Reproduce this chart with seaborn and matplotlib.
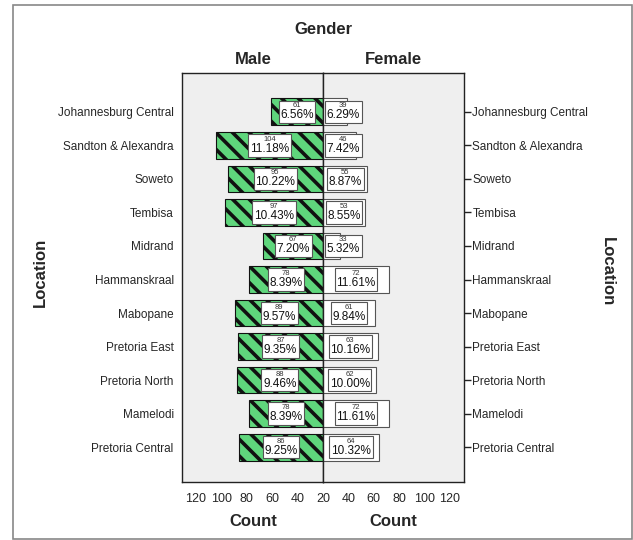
import matplotlib
matplotlib.use('Agg')
import numpy as np
import pandas as pd
import matplotlib.pyplot as plt
from matplotlib.patches import Rectangle
from matplotlib.offsetbox import TextArea, VPacker, AnnotationBbox
import seaborn as sns


locations = ['Johannesburg Central', 'Sandton & Alexandra', 'Soweto', 'Tembisa',
             'Midrand', 'Hammanskraal', 'Mabopane', 'Pretoria East',
             'Pretoria North', 'Mamelodi', 'Pretoria Central']
male_counts = [61, 104, 95, 97, 67, 78, 89, 87, 88, 78, 86]
female_counts = [39, 46, 55, 53, 33, 72, 61, 63, 62, 72, 64]
male_ticks = [20, 40, 60, 80, 100, 120]
female_ticks = [40, 60, 80, 100, 120]

BASE = 20
XMAX = 131
FONT = ['Liberation Sans', 'DejaVu Sans']


def draw_side(ax, counts, color, hatch, edge):
    df = pd.DataFrame({'location': locations, 'count': counts})
    sns.barplot(data=df, x='count', y='location', ax=ax, orient='h',
                color=color, width=0.8, edgecolor=edge, linewidth=0.8,
                hatch=hatch, saturation=1, zorder=2)
    total = sum(counts)
    boxes = []
    for i, c in enumerate(counts):
        xm = (BASE + c) / 2
        pct = '%.2f%%' % (c / total * 100)
        top = TextArea(str(c), textprops=dict(fontsize=5.5, family=FONT, color='#333333'))
        bot = TextArea(pct, textprops=dict(fontsize=8.5, family=FONT, color='#111111'))
        pack = VPacker(children=[top, bot], align='center', pad=0, sep=0)
        ab = AnnotationBbox(pack, (xm, i), xycoords='data', frameon=True,
                            pad=0.12, box_alignment=(0.5, 0.5), zorder=4,
                            bboxprops=dict(boxstyle='square,pad=0.12', fc='white',
                                           ec='#555555', lw=0.8))
        ax.add_artist(ab)
        boxes.append((ab, xm, i))
    ax.set_ylim(11.04, -1.16)
    ax.set_facecolor('#efefef')
    ax.set_xlabel('')
    ax.set_ylabel('')
    for s in ax.spines.values():
        s.set_color('#222222')
        s.set_linewidth(1.0)
    ax.tick_params(axis='both', length=5, width=1, color='#222222')
    ax.tick_params(axis='y', labelsize=8.5, pad=1)
    ax.tick_params(axis='x', labelsize=9, pad=3)
    return boxes


def keep_inside(fig, ax, boxes, side):
    # push a label box away from the centre line when it would cross it
    fig.canvas.draw()
    r = fig.canvas.get_renderer()
    centre = ax.transData.transform((BASE, 0))[0]
    for ab, xm, i in boxes:
        bb = ab.get_window_extent(r)
        if side == 'right':
            shift = centre + 2 - bb.x0
        else:
            shift = centre - 2 - bb.x1
            shift = min(shift, 0)
        if (side == 'right' and shift > 0) or (side == 'left' and shift < 0):
            px = ax.transData.transform((xm, i))[0] + shift
            nx = ax.transData.inverted().transform((px, 0))[0]
            ab.xy = (nx, i)
            ab.xybox = (nx, i)


sns.set_style('white')
plt.rcParams['hatch.linewidth'] = 2.6
plt.rcParams['hatch.color'] = 'black'
plt.rcParams['font.family'] = FONT

fig = plt.figure(figsize=(6.33, 5.40), dpi=100)
ax_m = fig.add_axes([182 / 633, 1 - 482 / 540, 141 / 633, 409 / 540])
ax_f = fig.add_axes([323 / 633, 1 - 482 / 540, 141 / 633, 409 / 540])

male_boxes = draw_side(ax_m, male_counts, '#5fd67c', '\\\\', '#111111')
female_boxes = draw_side(ax_f, female_counts, 'white', None, '#555555')

ax_m.set_xlim(XMAX, BASE)
ax_m.set_xticks(male_ticks)
ax_m.set_xticklabels([str(t) for t in male_ticks])
ax_f.set_xlim(BASE, XMAX)
ax_f.set_xticks(female_ticks)
ax_f.set_xticklabels([str(t) for t in female_ticks])
ax_f.yaxis.tick_right()
ax_f.set_yticks(range(len(locations)))
ax_f.set_yticklabels(locations)

bold = dict(fontsize=12, fontweight='bold', family=FONT, ha='center', va='center')
fig.text(323 / 633, 1 - 30 / 540, 'Gender', **bold)
fig.text(253 / 633, 1 - 59 / 540, 'Male', **bold)
fig.text(393 / 633, 1 - 59 / 540, 'Female', **bold)
fig.text(253 / 633, 1 - 522 / 540, 'Count', **bold)
fig.text(393 / 633, 1 - 522 / 540, 'Count', **bold)
fig.text(40 / 633, 1 - 272 / 540, 'Location', rotation=90, **bold)
fig.text(607 / 633, 1 - 272 / 540, 'Location', rotation=270, **bold)

fig.patches.append(Rectangle((13 / 633, 1 / 540), 619 / 633, 534 / 540,
                             transform=fig.transFigure, fill=False,
                             ec='#888888', lw=1.2))

keep_inside(fig, ax_m, male_boxes, 'left')
keep_inside(fig, ax_f, female_boxes, 'right')

fig.savefig('out.png', dpi=100)
